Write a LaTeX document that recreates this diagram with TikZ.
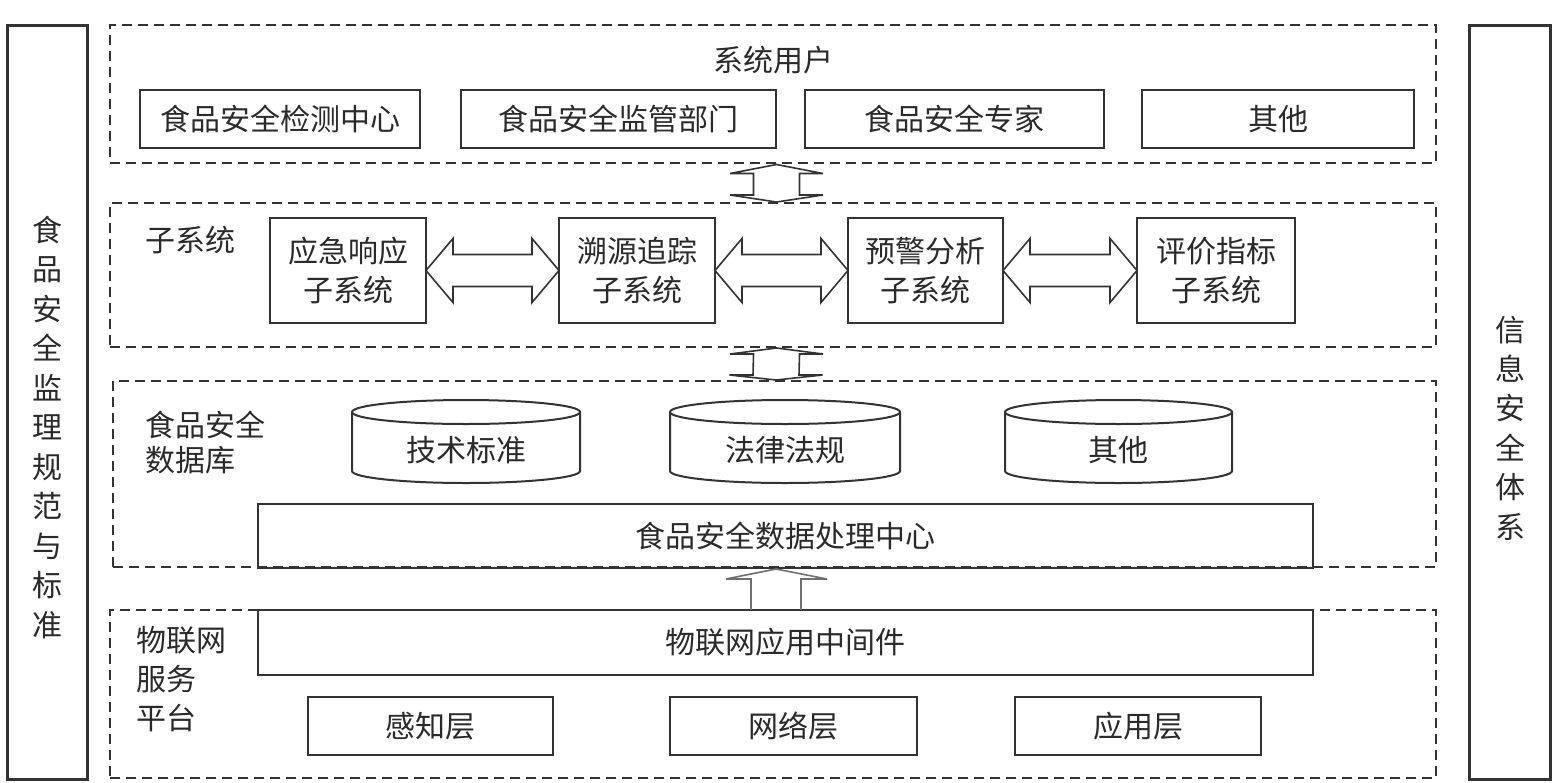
\documentclass[tikz,border=0pt]{standalone}
\usepackage{fontspec}
\setmainfont{Noto Sans CJK SC}
\usetikzlibrary{calc}
\definecolor{ln}{HTML}{333333}
\definecolor{tx}{HTML}{2A2A2A}
\newcommand\hdarrow[2]{\draw[arr] (#1.east) -- ++(27,-32) -- ++(0,16) -- ($(#2.west)+(-27,-16)$) -- ++(0,-16) -- (#2.west) -- ++(-27,32) -- ++(0,-16) -- ($(#1.east)+(27,16)$) -- ++(0,16) -- cycle;}
\newcommand\dbcyl[4]{%
  \pgfmathsetmacro\cxl{#2-#3}\pgfmathsetmacro\cxr{#2+#3}%
  \pgfmathsetmacro\ka{#2-0.5523*#3}\pgfmathsetmacro\kb{#2+0.5523*#3}%
  \draw[cyl] (#2,412) ellipse [x radius=#3, y radius=12];
  \draw[cyl] (\cxl,412) -- (\cxl,471) .. controls (\cxl,477.6) and (\ka,483) .. (#2,483)
     .. controls (\kb,483) and (\cxr,477.6) .. (\cxr,471) -- (\cxr,412);
  \node (#1) at (#2,450) {#4};}
\begin{document}
\begin{tikzpicture}[x=1pt,y=-1pt,
  every node/.style={text=tx, font=\fontsize{30}{39}\selectfont, inner sep=0pt, outer sep=0pt},
  sbox/.style={draw=ln, line width=2pt, rectangle, align=center},
  dbox/.style={draw=ln, line width=2pt, dash pattern=on 10pt off 6pt, rectangle},
  sidebox/.style={draw=ln, line width=3pt, rectangle},
  cyl/.style={draw=ln, line width=2pt},
  arr/.style={draw=ln, line width=1.6pt, line join=miter}]
\useasboundingbox (0,0) rectangle (1552,782);
% side boxes
\node[sidebox, minimum width=80, minimum height=754] (LB) at (47,402) {};
\node[sidebox, minimum width=81, minimum height=754] (RB) at (1509.5,402) {};
\node[align=center, font=\fontsize{30}{39.5}\selectfont] (LT) at (47,427) {食\\品\\安\\全\\监\\理\\规\\范\\与\\标\\准};
\node[align=center, font=\fontsize{30}{39.4}\selectfont] (RT) at (1510,428) {信\\息\\安\\全\\体\\系};
% layer 1
\node[dbox, minimum width=1326, minimum height=138] (L1) at (773,94) {};
\node (T1) at (773,60) {系统用户};
\node[sbox, minimum width=280, minimum height=58] (u1) at (280,119) {食品安全检测中心};
\node[sbox, minimum width=315, minimum height=58] (u2) at (618.5,119) {食品安全监管部门};
\node[sbox, minimum width=299, minimum height=58] (u3) at (954.5,119) {食品安全专家};
\node[sbox, minimum width=272, minimum height=58] (u4) at (1278,119) {其他};
% layer 2
\node[dbox, minimum width=1326, minimum height=144] (L2) at (773,275) {};
\node[anchor=west] (T2) at (145,240) {子系统};
\node[sbox, minimum width=156, minimum height=105] (s1) at (348,270.5) {应急响应\\子系统};
\node[sbox, minimum width=156, minimum height=105] (s2) at (637,270.5) {溯源追踪\\子系统};
\node[sbox, minimum width=155, minimum height=105] (s3) at (925.5,270.5) {预警分析\\子系统};
\node[sbox, minimum width=158, minimum height=105] (s4) at (1216,270.5) {评价指标\\子系统};
\hdarrow{s1}{s2}
\hdarrow{s2}{s3}
\hdarrow{s3}{s4}
% layer 3
\node[dbox, minimum width=1323, minimum height=186] (L3) at (774.5,474) {};
\node[anchor=west, align=left, font=\fontsize{30}{35}\selectfont] (T3) at (145,442.5) {食品安全\\数据库};
\dbcyl{c1}{466}{114}{技术标准}
\dbcyl{c2}{785}{115}{法律法规}
\dbcyl{c3}{1118.5}{113.5}{其他}
\node[sbox, minimum width=1055, minimum height=64] (P) at (785.5,536) {食品安全数据处理中心};
% layer 4
\node[dbox, minimum width=1326, minimum height=168] (L4) at (773,694) {};
\node[anchor=west, align=left, font=\fontsize{30}{39}\selectfont] (T4) at (136,679) {物联网\\服务\\平台};
\node[sbox, minimum width=1055, minimum height=65] (M) at (785.5,642.5) {物联网应用中间件};
\node[sbox, minimum width=245, minimum height=58] (b1) at (430.5,726) {感知层};
\node[sbox, minimum width=247, minimum height=58] (b2) at (793.5,726) {网络层};
\node[sbox, minimum width=246, minimum height=58] (b3) at (1138,726) {应用层};
% vertical arrows
\coordinate (ax) at (776,0);
\coordinate (a1t) at ($(L1.south)+(3.5,1.5)$);
\coordinate (a1b) at ($(L2.north)+(3.5,-1)$);
\draw[arr] (a1t) -- ++(46.5,9) -- ++(-23.5,0) -- ($(a1b)+(23,-7)$) -- ++(23.5,0) -- (a1b)
  -- ++(-46.5,-7) -- ++(23.5,0) -- ($(a1t)+(-23,9)$) -- ++(-23.5,0) -- cycle;
\coordinate (a2t) at ($(L2.south)+(3.5,1)$);
\coordinate (a2b) at ($(L3.north)+(1.5,-1)$);
\draw[arr] (a2t) -- ++(46.5,6) -- ++(-23.5,0) -- ($(a2b)+(23,-5)$) -- ++(23.5,0) -- (a2b)
  -- ++(-46.5,-5) -- ++(23.5,0) -- ($(a2t)+(-23,6)$) -- ++(-23.5,0) -- cycle;
\coordinate (a3t) at ($(P.south -| ax)+(0,1)$);
\coordinate (a3b) at (M.north -| ax);
\draw[arr, draw=ln!70] ($(a3b)+(-25,0)$) -- ($(a3t)+(-25,10)$) -- ++(-25,0) -- (a3t)
  -- ++(51,10) -- ++(-26,0) -- ($(a3b)+(25,0)$);
\end{tikzpicture}
\end{document}
